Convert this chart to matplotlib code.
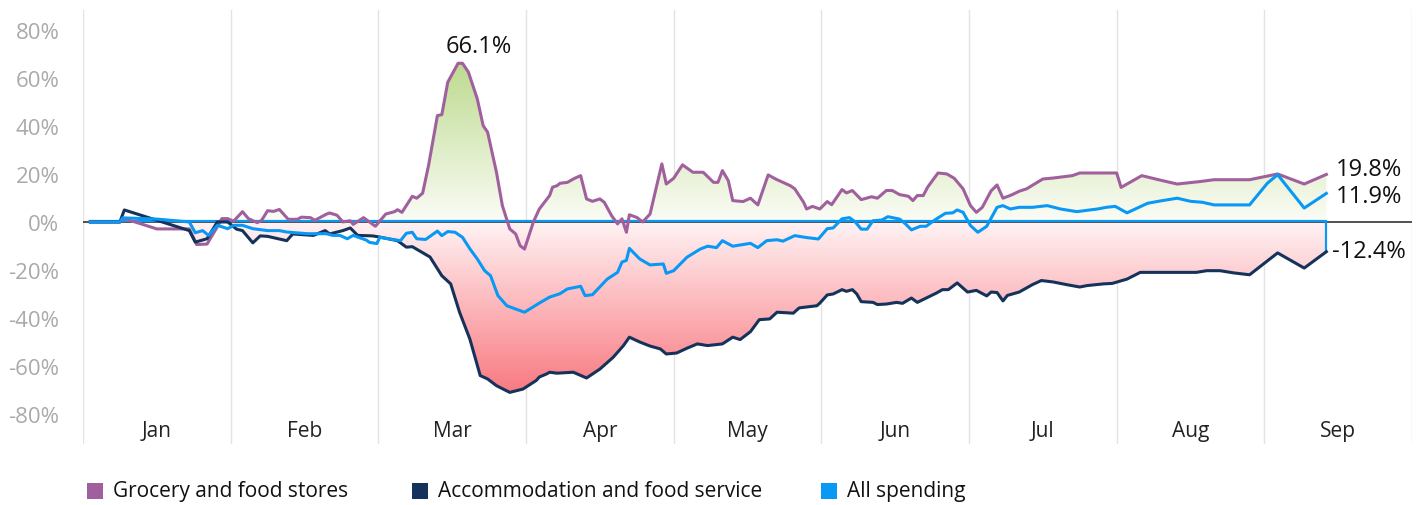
import numpy as np
import matplotlib
matplotlib.use("Agg")
import matplotlib.pyplot as plt
from matplotlib.path import Path
from matplotlib.patches import Rectangle
import matplotlib.transforms as mtransforms

plt.rcParams['font.family'] = ['Open Sans', 'DejaVu Sans']

# ---------------- data (x = position in months since Jan 1, y = % change) -------------
months = ['Jan', 'Feb', 'Mar', 'Apr', 'May', 'Jun', 'Jul', 'Aug', 'Sep']
yticks = [-80, -60, -40, -20, 0, 20, 40, 60, 80]

grocery_x = [0.05, 0.25, 0.28, 0.50, 0.72, 0.77, 0.84, 0.91, 0.94, 0.98, 1.02, 1.08, 1.12, 1.18,
             1.21, 1.25, 1.29, 1.33, 1.39, 1.45, 1.48, 1.54, 1.57, 1.65, 1.67, 1.72, 1.76, 1.81,
             1.83, 1.90, 1.94, 1.98, 2.05, 2.11, 2.13, 2.16, 2.23, 2.26, 2.30, 2.34, 2.40, 2.43,
             2.47, 2.54, 2.57, 2.61, 2.67, 2.71, 2.74, 2.80, 2.84, 2.89, 2.93, 2.96, 2.99, 3.05,
             3.09, 3.16, 3.18, 3.21, 3.23, 3.28, 3.33, 3.37, 3.41, 3.45, 3.50, 3.53, 3.58, 3.62,
             3.65, 3.68, 3.70, 3.75, 3.79, 3.84, 3.92, 3.95, 4.00, 4.06, 4.13, 4.20, 4.27, 4.30,
             4.33, 4.37, 4.40, 4.47, 4.52, 4.57, 4.64, 4.69, 4.79, 4.82, 4.88, 4.90, 4.94, 4.99,
             5.04, 5.07, 5.14, 5.17, 5.21, 5.27, 5.34, 5.38, 5.44, 5.48, 5.53, 5.59, 5.62, 5.65,
             5.69, 5.72, 5.79, 5.85, 5.90, 5.96, 6.01, 6.05, 6.09, 6.15, 6.19, 6.23, 6.29, 6.34,
             6.39, 6.50, 6.57, 6.70, 6.75, 7.00, 7.03, 7.11, 7.17, 7.29, 7.41, 7.56, 7.66, 7.90,
             8.09, 8.27, 8.42]
grocery_y = [0, 0, 1.4, -2.9, -2.9, -9.4, -9.2, -2.0, 1.4, 1.4, 0.3, 4.3, 1.4, -0.3,
             0.7, 4.7, 4.4, 5.2, 1.1, 1.1, 2.0, 1.8, 0.7, 3.3, 3.75, 2.8, 0.0, 0.5,
             -1.0, 1.8, 0.0, -1.8, 3.3, 4.3, 5.1, 4.0, 10.7, 9.9, 12.0, 23.5, 44.3, 44.7,
             58.2, 66.1, 66.1, 62.4, 51.3, 40.1, 37.4, 20.7, 6.8, -2.9, -5.0, -9.9, -11.3, 0.0,
             5.4, 11.0, 14.5, 15.1, 16.1, 16.5, 18.2, 19.3, 9.6, 8.6, 9.6, 8.2, 2.6, -0.8,
             1.3, -4.3, 3.0, 1.9, 0.0, 3.3, 24.2, 15.8, 18.2, 23.8, 20.7, 20.7, 16.5, 16.5,
             21.4, 17.2, 8.9, 8.5, 9.9, 7.1, 19.6, 17.9, 15.1, 13.8, 8.2, 5.4, 6.5, 5.4,
             8.5, 7.2, 13.5, 12.1, 13.1, 9.3, 10.5, 9.9, 13.1, 13.1, 11.4, 10.7, 8.9, 11.0,
             11.0, 14.5, 20.4, 20.0, 18.2, 13.8, 6.8, 4.0, 6.1, 13.0, 15.4, 9.9, 11.3, 12.8,
             13.8, 17.9, 18.3, 19.3, 20.4, 20.4, 14.4, 17.2, 19.3, 17.5, 15.8, 16.8, 17.6, 17.6,
             20.0, 15.8, 19.8]

accom_x = [0.05, 0.25, 0.28, 0.72, 0.76, 0.84, 0.91, 0.98, 1.04, 1.08, 1.15, 1.20, 1.25, 1.38,
           1.42, 1.56, 1.64, 1.67, 1.76, 1.81, 1.86, 1.96, 2.01, 2.13, 2.19, 2.23, 2.35, 2.43,
           2.49, 2.55, 2.62, 2.69, 2.74, 2.80, 2.89, 2.98, 3.07, 3.09, 3.14, 3.16, 3.21, 3.32,
           3.41, 3.50, 3.59, 3.66, 3.70, 3.77, 3.84, 3.91, 3.95, 4.02, 4.09, 4.16, 4.23, 4.33,
           4.40, 4.45, 4.52, 4.58, 4.65, 4.70, 4.81, 4.85, 4.97, 4.99, 5.04, 5.08, 5.14, 5.17,
           5.21, 5.24, 5.27, 5.35, 5.38, 5.44, 5.51, 5.55, 5.61, 5.65, 5.71, 5.78, 5.82, 5.86,
           5.92, 5.99, 6.05, 6.12, 6.15, 6.19, 6.23, 6.26, 6.34, 6.43, 6.49, 6.57, 6.66, 6.75,
           6.80, 6.91, 6.97, 7.07, 7.16, 7.54, 7.61, 7.70, 7.79, 7.90, 8.09, 8.27, 8.42]
accom_y = [0, 0, 5.0, -3.6, -8.4, -7.0, 0.0, 0.0, -3.0, -3.6, -8.7, -5.8, -6.0, -7.8,
           -5.0, -5.6, -3.6, -5.0, -3.6, -2.5, -5.6, -5.8, -6.3, -7.8, -10.5, -10.3, -14.6, -22.4,
           -25.8, -37.6, -48.8, -64.0, -65.4, -68.2, -71.0, -69.6, -66.0, -64.6, -63.3, -62.6, -63.0, -62.6,
           -65.0, -61.3, -56.4, -51.5, -48.0, -50.0, -51.7, -52.9, -55.0, -54.6, -52.6, -50.8, -51.5, -50.8,
           -48.0, -49.0, -45.7, -40.7, -40.4, -37.6, -38.0, -35.8, -34.9, -33.8, -30.4, -30.0, -28.2, -28.9,
           -28.2, -30.0, -33.2, -33.5, -34.4, -34.2, -33.5, -33.9, -31.7, -33.5, -31.7, -29.6, -28.2, -28.2,
           -25.4, -29.2, -28.5, -30.8, -29.2, -29.4, -32.9, -30.6, -29.2, -26.1, -24.4, -25.0, -26.1, -27.1,
           -26.5, -25.8, -25.6, -23.8, -21.0, -21.0, -20.3, -20.3, -21.2, -22.0, -12.9, -19.2, -12.4]

allspend_x = [0.05, 0.25, 0.27, 0.50, 0.72, 0.76, 0.81, 0.85, 0.91, 0.98, 1.02, 1.08, 1.15, 1.25,
              1.33, 1.38, 1.52, 1.65, 1.69, 1.74, 1.79, 1.83, 1.92, 1.94, 1.99, 2.01, 2.15, 2.19,
              2.23, 2.26, 2.32, 2.40, 2.43, 2.47, 2.52, 2.57, 2.62, 2.67, 2.72, 2.76, 2.81, 2.87,
              2.94, 2.99, 3.09, 3.16, 3.23, 3.28, 3.37, 3.40, 3.45, 3.55, 3.62, 3.65, 3.68, 3.70,
              3.77, 3.84, 3.93, 3.95, 4.00, 4.09, 4.18, 4.23, 4.29, 4.33, 4.40, 4.52, 4.57, 4.63,
              4.70, 4.74, 4.82, 4.90, 4.98, 5.04, 5.08, 5.14, 5.19, 5.23, 5.27, 5.31, 5.35, 5.41,
              5.45, 5.53, 5.57, 5.61, 5.67, 5.71, 5.78, 5.84, 5.89, 5.92, 5.96, 6.01, 6.06, 6.12,
              6.19, 6.23, 6.28, 6.34, 6.43, 6.53, 6.62, 6.73, 6.87, 6.93, 6.99, 7.07, 7.21, 7.31,
              7.41, 7.50, 7.58, 7.66, 7.90, 8.02, 8.09, 8.27, 8.42]
allspend_y = [0, 0, 1.7, 1.2, 0.0, -4.5, -3.6, -5.6, -1.4, -2.8, -1.4, -1.4, -2.8, -3.6,
              -3.6, -4.2, -4.9, -4.9, -5.6, -5.6, -7.0, -5.6, -7.6, -8.5, -9.0, -6.4, -7.8, -4.7,
              -4.3, -7.0, -7.3, -3.8, -5.7, -4.0, -4.3, -6.4, -11.2, -15.4, -20.3, -22.4, -30.7, -34.9,
              -36.5, -37.6, -33.8, -31.3, -29.9, -27.9, -26.8, -30.7, -30.3, -23.8, -21.0, -16.7, -16.0, -11.0,
              -15.4, -17.9, -17.5, -21.4, -20.3, -14.7, -11.3, -10.1, -10.7, -7.8, -10.1, -8.9, -10.7, -7.8,
              -7.4, -8.0, -5.7, -6.5, -7.1, -2.8, -2.5, 1.3, 1.8, 0.0, -3.0, -3.0, 0.5, 0.8,
              2.2, 1.2, -0.8, -3.3, -1.8, -1.8, 1.3, 3.6, 3.8, 5.0, 4.0, -1.5, -4.3, -1.8,
              6.1, 6.8, 5.4, 6.1, 6.1, 6.8, 5.4, 4.3, 5.4, 6.1, 6.5, 3.8, 7.8, 8.9,
              9.9, 8.6, 8.2, 7.1, 7.1, 16.1, 19.7, 5.8, 11.9]

series_names = ['Grocery and food stores', 'Accommodation and food service', 'All spending']
series_colors = ['#a0609e', '#15325b', '#0a98f5']

# ---------------- figure ----------------
W, H = 1424, 506
fig = plt.figure(figsize=(W / 100, H / 100), dpi=100)
ax = fig.add_axes([83 / W, 1 - 445 / H, (1412 - 83) / W, (445 - 11) / H])
XMIN, XMAX, YMIN, YMAX = 0, 9, -92.5, 88.3

gx, gy = np.array(grocery_x), np.array(grocery_y)
accx, accy = np.array(accom_x), np.array(accom_y)
ax_, ay_ = np.array(allspend_x), np.array(allspend_y)


def gradient_fill(x, y1, y2, where, c_zero, c_far, far_val):
    poly = ax.fill_between(x, y1, y2, where=where, interpolate=True, color='none', lw=0)
    paths = poly.get_paths()
    path = Path.make_compound_path(*paths)
    n = 256
    lo, hi = (0, far_val) if far_val > 0 else (far_val, 0)
    vals = np.linspace(lo, hi, n)
    frac = np.abs(vals) / abs(far_val)
    c0, c1 = np.array(c_zero), np.array(c_far)
    img = (c0[None, :] * (1 - frac[:, None]) + c1[None, :] * frac[:, None])
    img = img[:, None, :]
    im = ax.imshow(img, extent=[XMIN, XMAX, lo, hi], origin='lower', aspect='auto',
                   interpolation='bilinear', zorder=1)
    im.set_clip_path(path, transform=ax.transData)


# green above zero under grocery
gradient_fill(gx, 0, gy, gy >= 0, (0.985, 0.99, 0.965, 1), (0.74, 0.855, 0.56, 1), 67)
# red below zero down to accommodation
gradient_fill(accx, accy, 0, accy <= 0, (1.0, 0.95, 0.955, 1), (0.975, 0.47, 0.50, 1), -72)

# vertical month gridlines
for i in range(0, 10):
    ax.axvline(i, color='#e3e3e3', lw=1.0, zorder=0.5)

# zero line
ax.axhline(0, color='#333333', lw=1.2, zorder=2)
off = mtransforms.offset_copy(ax.transData, fig=fig, x=0, y=1.2, units='dots')
ax.plot([accx[0], accx[-1], accx[-1]], [0, 0, accy[-1]], color='#0a98f5', lw=1.6,
        zorder=2.5, transform=off, solid_joinstyle='miter')

# lines
ax.plot(gx, gy, color=series_colors[0], lw=2.2, zorder=3, solid_joinstyle='round')
ax.plot(accx, accy, color=series_colors[1], lw=2.2, zorder=3.2, solid_joinstyle='round')
ax.plot(ax_, ay_, color=series_colors[2], lw=2.2, zorder=3.4, solid_joinstyle='round')

ax.set_xlim(XMIN, XMAX)
ax.set_ylim(YMIN, YMAX)
ax.set_xticks([])
ax.set_yticks(yticks)
ax.set_yticklabels([f'{v}%' for v in yticks])
ax.tick_params(axis='y', length=0, pad=17, labelsize=16, labelcolor='#aaaaaa')
for s in ax.spines.values():
    s.set_visible(False)

# month labels
for i, m in enumerate(months):
    ax.text(i + 0.5, -86.7, m, ha='center', va='center', fontsize=15, color='#222222')

# annotations
ipk = int(np.argmax(gy))
ax.annotate(f'{gy[ipk]:.1f}%', xy=(gx[ipk], gy[ipk]), xytext=(15, 4), textcoords='offset points',
            ha='center', va='bottom', fontsize=17, color='#111111')
ax.annotate(f'{gy[-1]:.1f}%', xy=(gx[-1], gy[-1]), xytext=(7, 4), textcoords='offset points',
            ha='left', va='center', fontsize=17, color='#111111')
ax.annotate(f'{ay_[-1]:.1f}%', xy=(ax_[-1], ay_[-1]), xytext=(7, -2), textcoords='offset points',
            ha='left', va='center', fontsize=17, color='#111111')
ax.annotate(f'{accy[-1]:.1f}%', xy=(accx[-1], accy[-1]), xytext=(4, 0.5), textcoords='offset points',
            ha='left', va='center', fontsize=17, color='#111111')

# legend (manual, bottom)
leg_x = [87, 412, 821]
for lx, name, col in zip(leg_x, series_names, series_colors):
    fig.add_artist(Rectangle(((lx) / W, 1 - 500 / H), 16 / W, 16 / H, transform=fig.transFigure,
                             color=col, lw=0))
    fig.text((lx + 26) / W, 1 - 492 / H, name, ha='left', va='center', fontsize=15, color='#111111')

fig.savefig('out.png', dpi=100)
